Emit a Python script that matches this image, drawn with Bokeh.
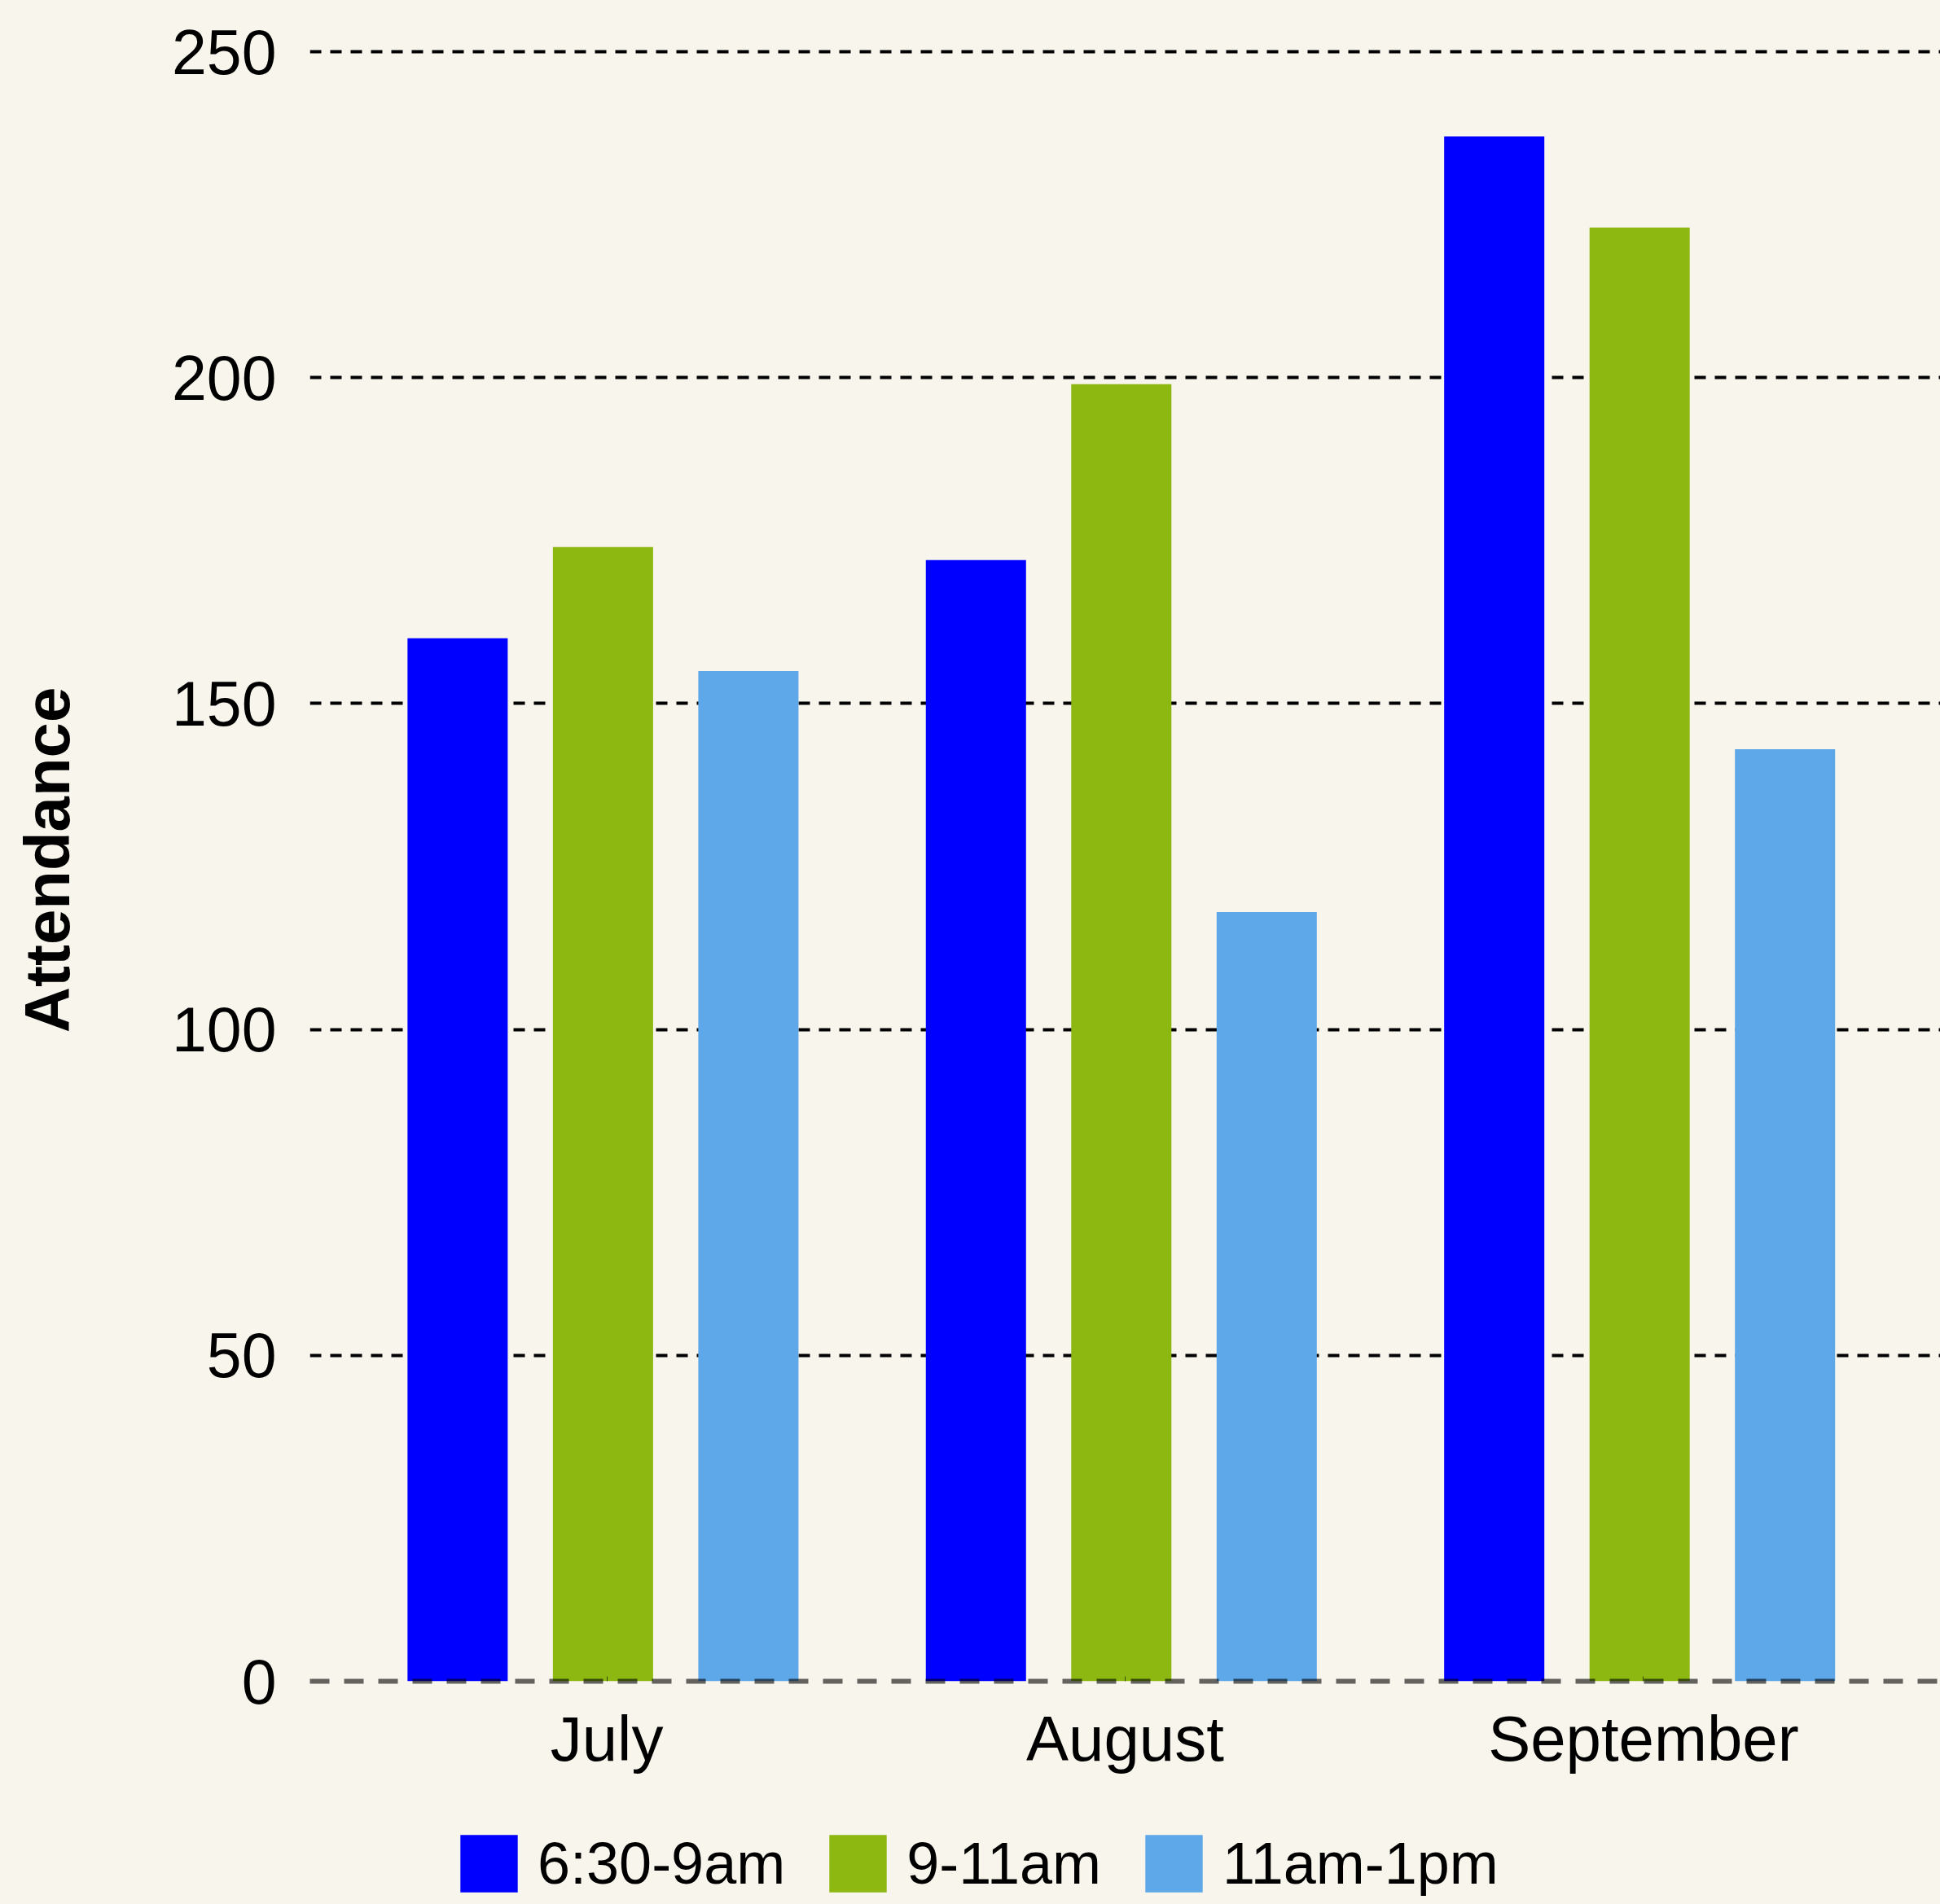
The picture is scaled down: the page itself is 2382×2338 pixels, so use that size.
from bokeh.plotting import figure
from bokeh.layouts import column
from bokeh.models import ColumnDataSource, FactorRange, Range1d, Legend, LegendItem, FixedTicker
from bokeh.transform import dodge
from bokeh.embed import file_html
from bokeh.resources import INLINE

# ---- data ----
months = ["July", "August", "September"]
slots = ["6:30-9am", "9-11am", "11am-1pm"]
early = [160, 172, 237]
mid = [174, 199, 223]
late = [155, 118, 143]
y_ticks = [0, 50, 100, 150, 200, 250]

# ---- style ----
BG = "#F8F5ED"
colors = ["#0000FF", "#8DB812", "#5EA8E9"]
FONT = "Liberation Sans"
cols = ["early", "mid", "late"]
offsets = [-0.2879, -0.0074, 0.2731]
BAR_W = 0.1933

source = ColumnDataSource(dict(months=months, early=early, mid=mid, late=late))
xr = FactorRange(factors=months, range_padding=0.0486)

# ---------- main chart ----------
p = figure(width=2382, height=2210, x_range=xr, y_range=Range1d(0, 252),
           output_backend="svg", toolbar_location=None,
           min_border_left=380, min_border_right=0, min_border_top=47, min_border_bottom=146,
           background_fill_color=BG, border_fill_color=BG, outline_line_color=None)

for col, off, c in zip(cols, offsets, colors):
    p.vbar(x=dodge("months", off, range=xr), top=col, width=BAR_W,
           source=source, fill_color=c, line_color=None)

# y axis
p.yaxis.ticker = FixedTicker(ticks=y_ticks)
p.yaxis.axis_line_color = None
p.yaxis.major_tick_line_color = None
p.yaxis.minor_tick_line_color = None
p.yaxis.major_label_text_font = FONT
p.yaxis.major_label_text_font_size = "77px"
p.yaxis.major_label_text_color = "black"
p.yaxis.major_label_standoff = 35
p.yaxis.axis_label = "Attendance"
p.yaxis.axis_label_text_font = FONT
p.yaxis.axis_label_text_font_size = "78px"
p.yaxis.axis_label_text_font_style = "bold"
p.yaxis.axis_label_text_color = "black"
p.yaxis.axis_label_standoff = 106

# x axis (zero line)
p.xaxis.axis_line_color = "black"
p.xaxis.axis_line_alpha = 0.6
p.xaxis.axis_line_width = 6
p.xaxis.axis_line_dash = "24 18"
p.xaxis.major_tick_in = 6
p.xaxis.major_tick_out = 0
p.xaxis.major_tick_line_color = "black"
p.xaxis.major_tick_line_alpha = 0.6
p.xaxis.major_tick_line_width = 1
p.xaxis.major_label_text_font = FONT
p.xaxis.major_label_text_font_size = "78px"
p.xaxis.major_label_text_color = "black"
p.xaxis.major_label_standoff = 26

# grid
p.xgrid.grid_line_color = None
p.ygrid.ticker = FixedTicker(ticks=y_ticks[1:])
p.ygrid.grid_line_color = "black"
p.ygrid.grid_line_width = 4
p.ygrid.grid_line_dash = "14 11"

# ---------- legend strip ----------
p2 = figure(width=2382, height=124, x_range=xr, y_range=Range1d(0, 1),
            output_backend="svg", toolbar_location=None,
            x_axis_location=None, y_axis_location=None,
            min_border_left=0, min_border_right=0, min_border_top=0, min_border_bottom=0,
            background_fill_color=BG, border_fill_color=BG, outline_line_color=None)
p2.grid.visible = False

legend_renderers = []
for col, off, c in zip(cols, offsets, colors):
    r = p2.vbar(x=dodge("months", off, range=xr), top=col, width=BAR_W,
                source=source, fill_color=c, line_color=None, visible=False)
    legend_renderers.append(r)

legend = Legend(items=[LegendItem(label=s, renderers=[r]) for s, r in zip(slots, legend_renderers)],
                orientation="horizontal", location=(176, 2),
                glyph_width=88, glyph_height=88, label_standoff=16, spacing=45,
                padding=0, margin=0,
                label_text_font=FONT, label_text_font_size="72px", label_text_color="black",
                background_fill_alpha=0, border_line_alpha=0)
p2.add_layout(legend, "center")

layout = column(p, p2, spacing=0)

html = file_html(layout, INLINE)
html = html.replace("<head>", "<head><style>html,body{background:%s;}</style>" % BG, 1)
open("out.html", "w").write(html)
